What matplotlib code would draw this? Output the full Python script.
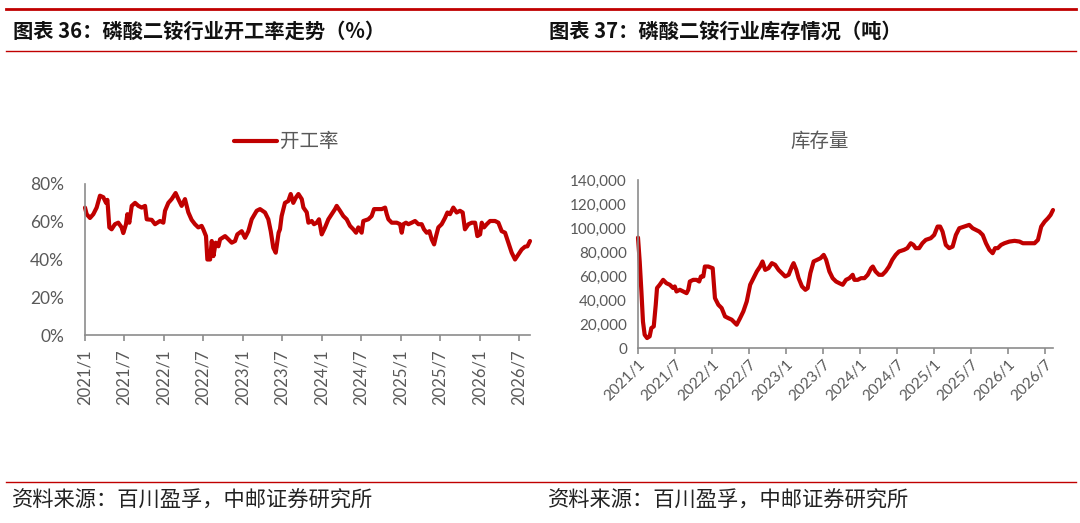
import numpy as np
import pandas as pd
import matplotlib
matplotlib.use("Agg")
import matplotlib.pyplot as plt
from matplotlib.lines import Line2D

plt.rcParams['font.family'] = ['Lato', 'Noto Sans CJK SC', 'DejaVu Sans']

# ---------------- data ----------------
# Left: operating rate (%) ; x = weeks since 2021-01-01
rate_weeks = [0, 1.1, 3.3, 5.5, 7.7, 9.9, 12.1, 13.9, 14.8, 16.1, 17.6, 19.8, 22.0, 24.2, 25.3,
              27.1, 28.0, 29.3, 30.9, 33.1, 35.3, 37.5, 39.7, 40.8, 44.1, 46.3, 49.6, 51.8, 52.9,
              55.1, 57.3, 59.9, 61.7, 63.9, 66.1, 68.3, 70.5, 72.7, 74.9, 77.1, 78.2, 80.0, 80.9,
              82.7, 83.8, 84.9, 86.4, 88.2, 89.3, 92.6, 94.8, 97.0, 99.2, 100.7, 103.6, 105.8,
              108.0, 110.2, 113.5, 115.7, 119.0, 121.2, 122.8, 124.5, 126.1, 128.0, 128.9, 130.0,
              132.2, 134.4, 136.0, 137.7, 139.5, 141.1, 143.3, 144.4, 146.6, 147.7, 149.9, 151.4,
              153.2, 154.7, 156.5, 158.7, 160.9, 163.1, 165.3, 166.4, 168.6, 170.8, 173.0, 175.2,
              177.4, 179.2, 180.7, 182.9, 184.0, 187.3, 189.5, 191.1, 194.0, 196.2, 198.4, 199.5,
              200.6, 202.8, 206.1, 208.3, 209.4, 210.5, 212.2, 213.8, 216.0, 218.2, 220.4, 222.6,
              224.1, 225.9, 227.7, 229.2, 230.8, 232.1, 233.6, 235.8, 238.0, 239.6, 241.3, 243.5,
              245.7, 247.9, 249.7, 251.2, 253.5, 255.7, 257.9, 259.4, 261.2, 262.3, 263.8, 265.6,
              267.8, 271.1, 273.3, 275.5, 277.7, 279.9, 282.1, 284.3, 286.5, 288.7, 290.9, 292.5,
              294.2]
rate_values = [67.5, 64, 62, 64, 67.5, 73.8, 73, 70, 71.6, 57, 56, 58.7, 59.5, 57, 54,
               58.7, 64, 59.5, 68.4, 70, 68.4, 67.5, 68.4, 61.3, 61, 58.7, 60.4, 59.5, 65.8,
               70, 72, 75.2, 72, 68.4, 72, 65, 61, 58.7, 57, 57.8, 56, 52.4, 40,
               40, 49.8, 41.8, 48.9, 47, 50.7, 52.4, 50.7, 48.9, 49.8, 53.3, 55, 51.5,
               55, 61.3, 65.8, 66.7, 64.9, 61.3, 55, 46.2, 43.6, 54.2, 56, 63,
               70, 71, 74.7, 70, 72.9, 74.7, 72, 67.5, 65, 59.5, 60.4, 58.7,
               59.5, 61.3, 53.3, 57, 61.3, 64, 66.7, 68.4, 65.8, 63, 61.3, 57.8,
               56, 54.2, 57, 54.2, 60.4, 61.3, 63, 66.7, 66.7, 66.7, 67.5, 64,
               61.3, 59.5, 59.5, 58.7, 54.2, 58.7, 59.5, 58.7, 59.5, 60.4, 58.7, 58.7,
               56, 54.2, 55, 50.7, 48, 52.4, 57, 58.7, 62, 64.9, 64, 67.5,
               64.9, 65.8, 64.9, 56, 58.7, 59.5, 59.5, 52.4, 53.3, 59.5, 57, 58.7,
               60.4, 60.4, 59.5, 55, 54.2, 48.9, 43.6, 40, 42.7, 45.3, 46.8, 47,
               49.8]

# Right: inventory (tonnes) ; x = weeks since 2021-01-01
stock_weeks = [0, 1.2, 2.4, 3.5, 4.7, 6.4, 8.2, 9.4, 11.1, 12.5, 13.4, 15.3, 17.7, 20.0, 22.4,
               24.7, 25.9, 27.1, 29.5, 31.8, 34.2, 35.4, 36.5, 38.9, 41.2, 43.1, 44.3, 46.0,
               47.1, 49.5, 52.6, 54.2, 56.6, 58.9, 61.3, 63.6, 66.0, 68.4, 69.5, 71.9, 74.2,
               76.6, 79.0, 81.3, 83.7, 86.0, 87.7, 89.6, 91.9, 94.3, 96.6, 99.0, 101.3, 103.7,
               106.1, 108.4, 109.6, 111.5, 113.1, 115.5, 117.9, 119.5, 121.4, 123.7, 126.1,
               128.5, 130.8, 132.5, 134.8, 137.1, 139.5, 141.8, 144.2, 146.5, 148.9, 151.2,
               152.4, 154.8, 157.1, 159.5, 161.8, 164.2, 165.4, 167.3, 169.7, 172.1, 174.4,
               176.8, 179.1, 181.5, 183.8, 187.4, 189.7, 192.1, 194.0, 195.6, 198.0, 200.3,
               202.7, 206.2, 208.6, 211.0, 212.8, 214.5, 216.8, 219.2, 221.6, 223.9, 226.3,
               229.8, 233.3, 235.7, 238.1, 240.4, 242.8, 245.1, 247.5, 249.8, 251.5, 253.4,
               255.7, 258.1, 261.6, 265.2, 268.7, 271.1, 274.6, 279.3, 281.7, 284.0, 286.4,
               288.7, 290.6, 292.3]
stock_values = [92000, 72000, 47000, 22000, 11000, 8300, 9700, 16600, 18000, 36000, 50000,
                52700, 56800, 54000, 52700, 50000, 51300, 47100, 48500, 47100, 45700, 48500,
                55400, 56800, 56800, 55400, 59600, 59600, 67900, 67900, 66500, 41600, 36000,
                33300, 26300, 24900, 23600, 20800, 19400, 24900, 30500, 38800, 52700, 58200,
                63800, 67900, 72100, 65100, 66500, 70700, 69300, 65100, 62400, 59600, 61000,
                67900, 70700, 65100, 58200, 51300, 48500, 49900, 62400, 72100, 73500, 74800,
                77600, 73500, 63800, 58200, 55400, 54000, 52700, 56800, 58200, 61000, 56800,
                56800, 58200, 58200, 61000, 66500, 67900, 63800, 61000, 61000, 63800, 67900,
                73500, 77600, 80400, 81800, 83200, 87300, 85900, 83200, 83200, 87300, 90100,
                91500, 94200, 101200, 101200, 97000, 85900, 83200, 84500, 94200, 99800, 101200,
                102600, 99800, 98400, 97000, 94200, 87300, 81800, 79000, 83200, 83200, 85900,
                87300, 88700, 89300, 88700, 87300, 87300, 87300, 90100, 101200, 105300, 108100,
                110900, 115000]

start_date = pd.Timestamp('2021-01-01')
tick_dates = pd.date_range('2021-01-01', '2026-07-01', freq='6MS')
tick_labels = [f"{d.year}/{d.month}" for d in tick_dates]

rate_yticks = [0, 20, 40, 60, 80]
stock_yticks = [0, 20000, 40000, 60000, 80000, 100000, 120000, 140000]

title_left = "图表 36：磷酸二铵行业开工率走势（%）"
title_right = "图表 37：磷酸二铵行业库存情况（吨）"
source_text = "资料来源：百川盈孚，中邮证券研究所"
legend_left = "开工率"
legend_right = "库存量"

RED = "#C00000"
GRAY = "#595959"
AXIS = "#8C8C8C"

def to_dates(w):
    return start_date + pd.to_timedelta(np.array(w) * 7, unit='D')

rate_dates = to_dates(rate_weeks)
stock_dates = to_dates(stock_weeks)

W, H = 1080, 523
fig = plt.figure(figsize=(W / 100, H / 100), dpi=100)

def fx(px):
    return px / W

def fy(py):
    return 1 - py / H

# decorative red rules
for y, lw in [(9.3, 2.0), (51, 1.0), (481.5, 1.0)]:
    fig.add_artist(Line2D([fx(6), fx(1076)], [fy(y), fy(y)], color=RED, lw=lw,
                          transform=fig.transFigure))

cjk_title = ['Noto Sans CJK SC', 'DejaVu Sans']
fig.text(fx(13), fy(31), title_left, fontsize=14.6, fontweight='bold', family=cjk_title,
         color='#111111', va='center', ha='left')
fig.text(fx(549), fy(31), title_right, fontsize=14.6, fontweight='bold', family=cjk_title,
         color='#111111', va='center', ha='left')
fig.text(fx(12), fy(501), source_text, fontsize=15.3, family=cjk_title, color='#222222',
         va='center', ha='left')
fig.text(fx(548), fy(501), source_text, fontsize=15.3, family=cjk_title, color='#222222',
         va='center', ha='left')

def style_axes(ax):
    for s in ['top', 'right']:
        ax.spines[s].set_visible(False)
    for s in ['left', 'bottom']:
        ax.spines[s].set_color(AXIS)
        ax.spines[s].set_linewidth(1.2)
    ax.tick_params(axis='y', length=0, colors=GRAY)
    ax.tick_params(axis='x', length=4, width=1.2, color=AXIS, labelcolor=GRAY, direction='out')
    ax.set_xticks(tick_dates)
    ax.set_xticklabels(tick_labels)

# ---------- left chart ----------
axL = fig.add_axes([fx(85), fy(335), fx(530) - fx(85), fy(184) - fy(335)])
axL.plot(rate_dates, rate_values, color=RED, lw=3.0, solid_joinstyle='round',
         solid_capstyle='round', clip_on=False)
axL.set_xlim(start_date, rate_dates[-1])
axL.set_ylim(0, 80)
style_axes(axL)
axL.set_yticks(rate_yticks)
axL.set_yticklabels([f"{v}%" for v in rate_yticks], fontsize=12.5)
axL.tick_params(axis='y', pad=15)
for lab in axL.get_xticklabels():
    lab.set_rotation(90)
    lab.set_fontsize(12)
axL.tick_params(axis='x', pad=6)

# left legend
fig.add_artist(Line2D([fx(234), fx(277)], [fy(141), fy(141)], color=RED, lw=3.0,
                      solid_capstyle='round', transform=fig.transFigure))
fig.text(fx(280), fy(141), legend_left, fontsize=14, family=cjk_title, color=GRAY,
         va='center', ha='left')

# ---------- right chart ----------
axR = fig.add_axes([fx(638), fy(348), fx(1053) - fx(638), fy(180) - fy(348)])
axR.plot(stock_dates, stock_values, color=RED, lw=3.0, solid_joinstyle='round',
         solid_capstyle='round', clip_on=False)
axR.set_xlim(start_date, stock_dates[-1])
axR.set_ylim(0, 140000)
style_axes(axR)
axR.set_yticks(stock_yticks)
axR.set_yticklabels([f"{v:,}" for v in stock_yticks], fontsize=11)
axR.tick_params(axis='y', pad=8)
for lab in axR.get_xticklabels():
    lab.set_rotation(45)
    lab.set_ha('right')
    lab.set_rotation_mode('anchor')
    lab.set_fontsize(11)
axR.tick_params(axis='x', pad=3)

fig.text(fx(820), fy(141), legend_right, fontsize=14, family=cjk_title, color=GRAY,
         va='center', ha='center')

fig.savefig("out.png", dpi=100)
